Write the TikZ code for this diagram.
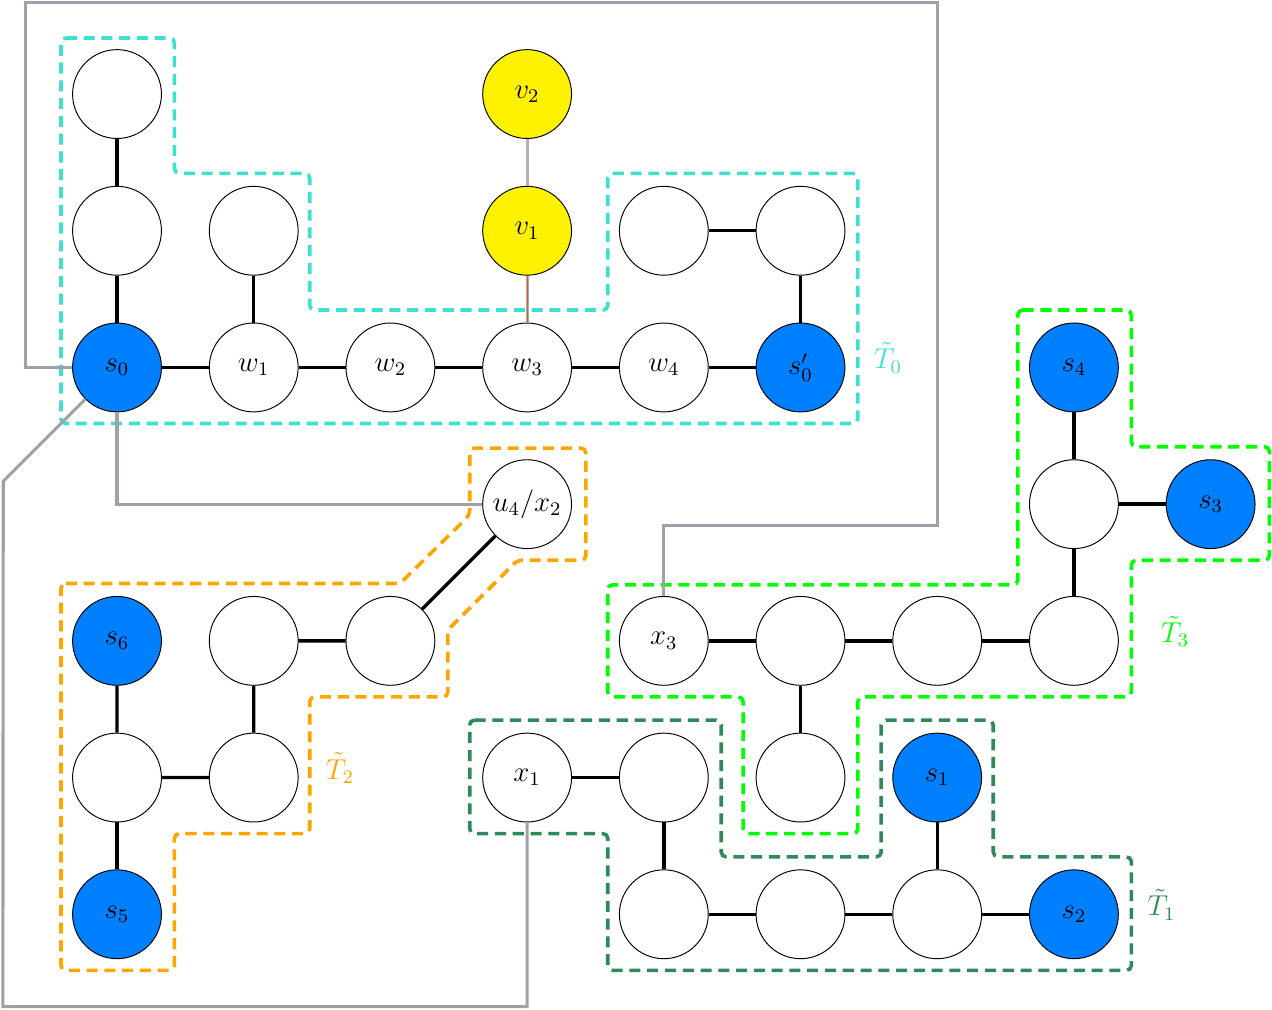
\documentclass[tikz,border=0pt]{standalone}
\usepackage{amsmath,amssymb}
\usepackage{tikz}
\definecolor{termblue}{RGB}{0,128,255}
\definecolor{tzero}{RGB}{64,224,208}
\definecolor{tone}{RGB}{46,139,87}
\definecolor{ttwo}{RGB}{255,165,0}
\definecolor{tthree}{RGB}{0,255,0}
\definecolor{wire}{RGB}{160,160,170}

\begin{document}
\begin{tikzpicture}[x=2cm,y=-2cm,font=\large,
  vert/.style={circle,draw,fill=white,minimum size=1.3cm,inner sep=0pt},
  terminal/.style={vert,fill=termblue},
  extra/.style={vert,fill=yellow},
  tedge/.style={line width=1.4pt},
  wirepath/.style={draw=wire,line width=1.3pt},
  treebox/.style={line width=1.5pt,dash pattern=on 4.6pt off 2.8pt,rounded corners=2pt},
  treename/.style={anchor=west,inner sep=2pt}]
\useasboundingbox (-0.856,-0.688) rectangle (8.449,6.70);
%trees
\draw[treebox,tzero] (-0.41,-0.41) -- (0.42,-0.41) -- (0.42,0.58) -- (1.41,0.58) -- (1.41,1.58)
  -- (3.59,1.58) -- (3.59,0.58) -- (5.42,0.58) -- (5.42,2.41) -- (-0.41,2.41) -- cycle;
\draw[treebox,ttwo] (-0.41,3.58) -- (2.07,3.58) -- (2.58,3.08) -- (2.58,2.59) -- (3.43,2.59)
  -- (3.43,3.41) -- (2.93,3.41) -- (2.42,3.92) -- (2.42,4.41) -- (1.41,4.41) -- (1.41,5.41)
  -- (0.42,5.41) -- (0.42,6.41) -- (-0.41,6.41) -- cycle;
\draw[treebox,tthree] (6.59,1.58) -- (7.42,1.58) -- (7.42,2.58) -- (8.43,2.58) -- (8.43,3.41)
  -- (7.42,3.41) -- (7.42,4.41) -- (5.42,4.41) -- (5.42,5.41) -- (4.58,5.41) -- (4.58,4.41)
  -- (3.59,4.41) -- (3.59,3.59) -- (6.59,3.59) -- cycle;
\draw[treebox,tone] (2.58,4.58) -- (4.42,4.58) -- (4.42,5.58) -- (5.59,5.58) -- (5.59,4.58)
  -- (6.41,4.58) -- (6.41,5.58) -- (7.42,5.58) -- (7.42,6.41) -- (3.59,6.41) -- (3.59,5.41)
  -- (2.58,5.41) -- cycle;
\node[treename,tzero] (l0) at (5.5,1.93) {$\tilde{T}_0$};
\node[treename,ttwo] (l2) at (1.49,4.93) {$\tilde{T}_2$};
\node[treename,tthree] (l3) at (7.6,3.93) {$\tilde{T}_3$};
\node[treename,tone] (l1) at (7.5,5.93) {$\tilde{T}_1$};
%vertices
\node[vert] (a1) at (0,0) {};
\node[extra] (v2) at (3,0) {$v_2$};
\node[vert] (a2) at (0,1) {};
\node[vert] (a3) at (1,1) {};
\node[extra] (v1) at (3,1) {$v_1$};
\node[vert] (a4) at (4,1) {};
\node[vert] (a5) at (5,1) {};
\node[terminal] (s0) at (0,2) {$s_0$};
\node[vert] (w1) at (1,2) {$w_1$};
\node[vert] (w2) at (2,2) {$w_2$};
\node[vert] (w3) at (3,2) {$w_3$};
\node[vert] (w4) at (4,2) {$w_4$};
\node[terminal] (s0p) at (5,2) {$s_0'$};
\node[terminal] (s4) at (7,2) {$s_4$};
\node[vert] (u4) at (3,3) {$u_4/x_2$};
\node[vert] (c1) at (7,3) {};
\node[terminal] (s3) at (8,3) {$s_3$};
\node[terminal] (s6) at (0,4) {$s_6$};
\node[vert] (b1) at (1,4) {};
\node[vert] (b2) at (2,4) {};
\node[vert] (x3) at (4,4) {$x_3$};
\node[vert] (c2) at (5,4) {};
\node[vert] (c3) at (6,4) {};
\node[vert] (c4) at (7,4) {};
\node[vert] (b3) at (0,5) {};
\node[vert] (b4) at (1,5) {};
\node[vert] (x1) at (3,5) {$x_1$};
\node[vert] (d1) at (4,5) {};
\node[vert] (c5) at (5,5) {};
\node[terminal] (s1) at (6,5) {$s_1$};
\node[terminal] (s5) at (0,6) {$s_5$};
\node[vert] (d2) at (4,6) {};
\node[vert] (d3) at (5,6) {};
\node[vert] (d4) at (6,6) {};
\node[terminal] (s2) at (7,6) {$s_2$};
%edges
\draw[tedge] (a1) -- (a2) -- (s0) -- (w1) -- (w2) -- (w3) -- (w4) -- (s0p) -- (a5) -- (a4);
\draw[tedge] (a3) -- (w1);
\draw[draw=gray!60,line width=1.3pt] (v2) -- (v1);
\draw[draw=gray!65,line width=1.3pt] (v1) -- (w3);
\draw[draw=brown!80!red,line width=0.4pt] (v1) -- (w3);
\draw[tedge] (s4) -- (c1) -- (c4) -- (c3) -- (c2) -- (x3);
\draw[tedge] (c1) -- (s3);
\draw[tedge] (c2) -- (c5);
\draw[tedge] (u4) -- (b2) -- (b1) -- (b4) -- (b3) -- (s6);
\draw[tedge] (b3) -- (s5);
\draw[tedge] (x1) -- (d1) -- (d2) -- (d3) -- (d4) -- (s2);
\draw[tedge] (s1) -- (d4);
%connections
\draw[wirepath] (s0.west) -| (-0.67,-0.667) -| (6,3.155) -| (x3.north);
\draw[wirepath] (s0.south) |- (u4.west);
\draw[wirepath] (s0.south west) -- ++(-0.6,0.6) -- (-0.835,6.676) -| (x1.south);
\end{tikzpicture}
\end{document}
